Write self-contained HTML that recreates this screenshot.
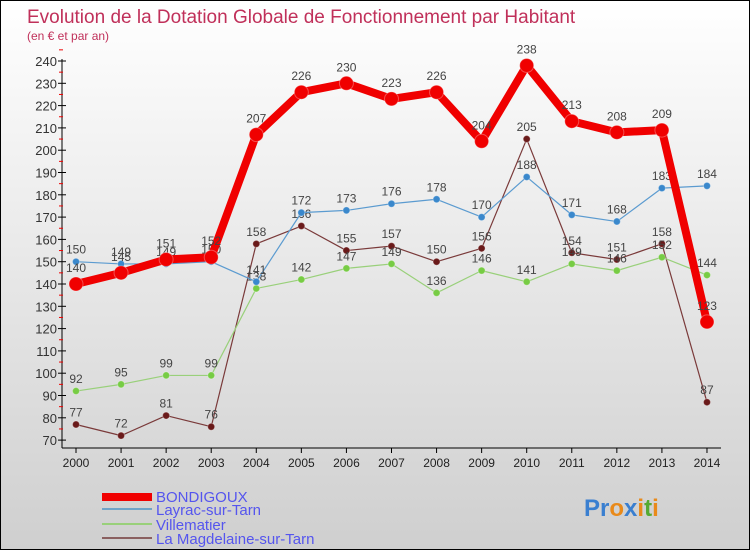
<!DOCTYPE html>
<html><head><meta charset="utf-8"><style>
html,body{margin:0;padding:0}
body{width:750px;height:550px;overflow:hidden;font-family:"Liberation Sans",sans-serif}
#wrap{position:relative;width:748px;height:548px;border:1px solid #000;background:linear-gradient(#ffffff,#cfcfcf)}
</style></head><body>
<div id="wrap">
<svg id="chart" width="748" height="548" style="position:absolute;left:0;top:0">
<text x="26" y="22" font-size="19" fill="#c0305a">Evolution de la Dotation Globale de Fonctionnement par Habitant</text>
<text x="26" y="39" font-size="12" fill="#c0305a">(en € et par an)</text>
<g id="axes"></g><g id="series"></g>
<g>
<rect x="101" y="492" width="50" height="8" fill="#f00000"/>
<text x="155" y="501" font-size="15" fill="#5555ee">BONDIGOUX</text>
<rect x="101" y="507" width="50" height="2" fill="#6fa3c8"/>
<text x="155" y="514" font-size="15" fill="#5555ee">Layrac-sur-Tarn</text>
<rect x="101" y="522" width="50" height="2" fill="#99d07a"/>
<text x="155" y="529" font-size="15" fill="#5555ee">Villematier</text>
<rect x="101" y="536" width="50" height="2" fill="#8a6060"/>
<text x="155" y="543" font-size="15" fill="#5555ee">La Magdelaine-sur-Tarn</text>
</g>
<text x="583" y="515" font-size="24" font-weight="bold"><tspan fill="#3a7fd0">Pr</tspan><tspan fill="#e98a1a">o</tspan><tspan fill="#3a7fd0">x</tspan><tspan fill="#e98a1a">i</tspan><tspan fill="#55aa33">t</tspan><tspan fill="#e98a1a">i</tspan></text>
</svg>
<script>
const years=["2000","2001","2002","2003","2004","2005","2006","2007","2008","2009","2010","2011","2012","2013","2014"];
const yTicks=[70,80,90,100,110,120,130,140,150,160,170,180,190,200,210,220,230,240];
const bondigoux=[140,145,151,152,207,226,230,223,226,204,238,213,208,209,123];
const layrac=[150,149,149,150,141,172,173,176,178,170,188,171,168,183,184];
const villematier=[92,95,99,99,138,142,147,149,136,146,141,149,146,152,144];
const magdelaine=[77,72,81,76,158,166,155,157,150,156,205,154,151,158,87];
const NS="http://www.w3.org/2000/svg";
function X(i){return 75+i*45.07;}
function Y(v){return 60+(240-v)*2.23;}
function mk(tag,attrs,parent){const e=document.createElementNS(NS,tag);for(const k in attrs)e.setAttribute(k,attrs[k]);parent.appendChild(e);return e;}
const axes=document.getElementById('axes');
let a=mk('line',{x1:61,y1:58,x2:61,y2:447,stroke:'#000'},axes);


a=mk('line',{x1:61,y1:447,x2:720,y2:447,stroke:'#000'},axes);


yTicks.forEach(v=>{
 mk('line',{x1:57,y1:Y(v),x2:65,y2:Y(v),stroke:'#000'},axes);
 mk('line',{x1:58,y1:Y(v+5),x2:62,y2:Y(v+5),stroke:'#e00'},axes);
 const t=mk('text',{x:56,y:Y(v)+5,'text-anchor':'end','font-size':13,fill:'#333'},axes);
 t.textContent=v;
 
 
});
years.forEach((yr,i)=>{
 mk('line',{x1:X(i),y1:447,x2:X(i),y2:452,stroke:'#000'},axes);
 const t=mk('text',{x:X(i),y:466,'text-anchor':'middle','font-size':12,fill:'#222'},axes);
 t.textContent=yr;
 
 
});
const sg=document.getElementById('series');
function draw(data,name,color,w,r,dot,labelDy){
 const g=mk('g',{},sg);
 
 
 const p=mk('polyline',{points:data.map((v,i)=>X(i)+','+Y(v)).join(' '),fill:'none',stroke:color,'stroke-width':w,'stroke-linejoin':'round'},g);
 
 
 data.forEach((v,i)=>{
  const c=mk('circle',{cx:X(i),cy:Y(v),r:r,fill:dot,stroke:'#fff','stroke-opacity':0.3},g);
  
  
  const t=mk('text',{x:X(i),y:Y(v)-labelDy,'text-anchor':'middle','font-size':12,fill:'#444'},g);
  t.textContent=v;
  
  
 });
}
draw(magdelaine,'magdelaine','#7a3a3a',1.2,3.5,'#6a1a1a',8);
draw(villematier,'villematier','#99d07a',1.2,3.5,'#77cc44',8);
draw(layrac,'layrac','#5b9bd0',1.2,3.5,'#3a88cc',8);
draw(bondigoux,'bondigoux','#f00000',8,7,'#f00000',12);
</script>
</div>
</body></html>
